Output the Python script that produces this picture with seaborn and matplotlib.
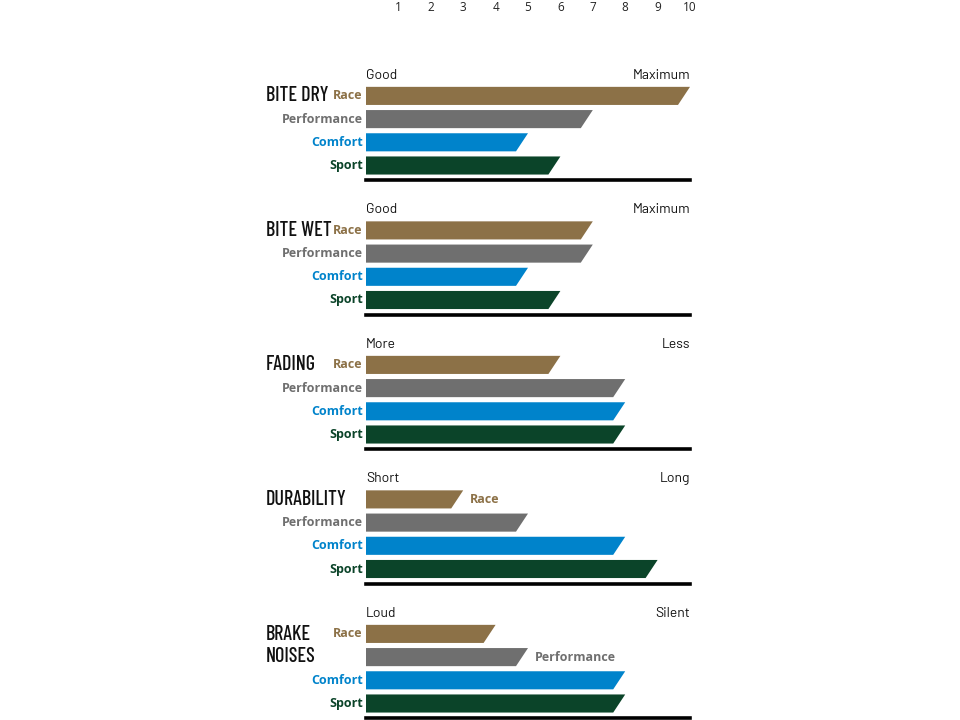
import matplotlib
matplotlib.use("Agg")
import matplotlib.pyplot as plt
import seaborn as sns
from matplotlib.patches import Polygon

# Data
pads = ["Race", "Performance", "Comfort", "Sport"]
pad_colors = ["#8c7147", "#6f6f6f", "#0083cb", "#0b4429"]
groups = ["BITE DRY", "BITE WET", "FADING", "DURABILITY", "BRAKE\nNOISES"]
low_labels = ["Good", "Good", "More", "Short", "Loud"]
high_labels = ["Maximum", "Maximum", "Less", "Long", "Silent"]
scores = [
    [10, 7, 5, 6],
    [7, 7, 5, 6],
    [6, 8, 8, 8],
    [3, 5, 8, 9],
    [4, 5, 8, 8],
]
# which pad labels sit to the right of their bar (title takes the left side)
label_right = [
    [False, False, False, False],
    [False, False, False, False],
    [False, False, False, False],
    [True, False, False, False],
    [False, True, False, False],
]
scale_ticks = list(range(1, 11))

sns.set_style("white")
plt.rcParams["font.family"] = ["Open Sans", "DejaVu Sans"]

label_font = ["Open Sans", "DejaVu Sans"]
head_font = ["Barlow", "DejaVu Sans"]
title_font = ["Barlow Condensed", "DejaVu Sans"]

W, H = 960, 720
fig = plt.figure(figsize=(9.6, 7.2), dpi=100)

x0, x1 = 366, 690          # pixel span of the 0..10 scale
row = 23.2                  # pixel spacing of bar rows
ylo, yhi = 3.625, -0.7
ax_h = (ylo - yhi) * row
slant = 0.37

for g, name in enumerate(groups):
    base = 180 + g * 134.5
    ax = fig.add_axes([x0 / W, (H - base) / H, (x1 - x0) / W, ax_h / H])
    sns.barplot(x=scores[g], y=pads, hue=pads, palette=pad_colors, orient="h",
                width=0.78, saturation=1, legend=False, ax=ax)
    ax.set_xlim(0, 10)
    ax.set_ylim(ylo, yhi)
    # turn the bars into slanted-end shapes
    for p in list(ax.patches):
        x, y, w, h = p.get_x(), p.get_y(), p.get_width(), p.get_height()
        c = p.get_facecolor()
        p.remove()
        ax.add_patch(Polygon([(x, y), (x + w, y), (x + w - slant, y + h), (x, y + h)],
                             closed=True, facecolor=c, edgecolor="none"))
    ax.set_xticks([])
    ax.set_yticks([])
    ax.set_xlabel("")
    ax.set_ylabel("")
    for s in ["top", "left", "right"]:
        ax.spines[s].set_visible(False)
    ax.spines["bottom"].set_linewidth(2.6)
    ax.spines["bottom"].set_color("black")

    for i, pad in enumerate(pads):
        if label_right[g][i]:
            ax.text(scores[g][i] + 0.2, i, pad, ha="left", va="center",
                    fontsize=9, fontweight="bold", color=pad_colors[i],
                    family=label_font)
        else:
            ax.text(-0.1, i, pad, ha="right", va="center",
                    fontsize=9, fontweight="bold", color=pad_colors[i],
                    family=label_font)

    ax.text(0, -0.9, low_labels[g], ha="left", va="center", fontsize=10,
            family=head_font, color="#111111")
    ax.text(10, -0.9, high_labels[g], ha="right", va="center", fontsize=10,
            family=head_font, color="#111111")

    ty = 0 if "\n" not in name else 0.5
    ax.text(-3.08, ty, name, ha="left", va="center", fontsize=14.5,
            family=title_font, fontweight="medium", color="#111111",
            linespacing=1.15, clip_on=False)

# scale numbers across the top
top = fig.add_axes([x0 / W, (H - 1) / H, (x1 - x0) / W, 0.001])
top.set_xlim(0, 10)
top.set_xticks(scale_ticks)
top.set_xticklabels([str(t) for t in scale_ticks], fontsize=8.5, color="#222222")
top.tick_params(axis="x", length=0, pad=0)
top.set_yticks([])
for s in top.spines.values():
    s.set_visible(False)

fig.savefig("out.png", dpi=100)
